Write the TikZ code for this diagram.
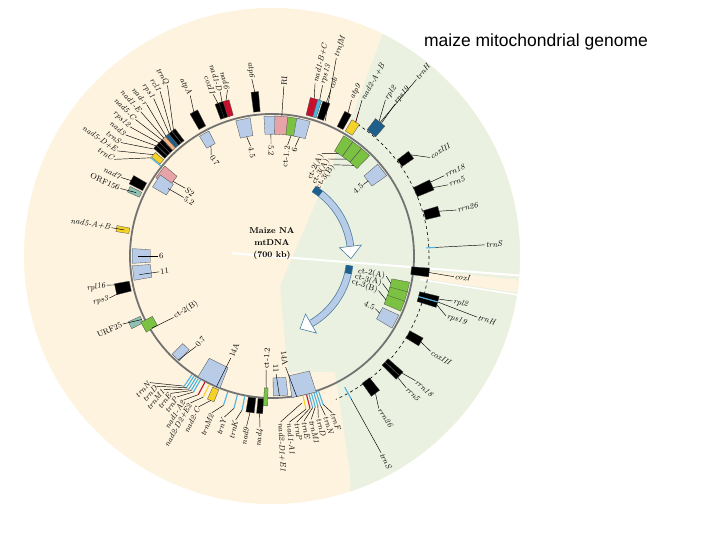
\documentclass[tikz,border=0pt]{standalone}
\usepackage{fontspec}
\newfontfamily\titlefont{Liberation Sans}
\begin{document}
\begin{tikzpicture}[x=1pt,y=1pt]
\definecolor{bgy}{HTML}{FDF3DE}
\definecolor{bgg}{HTML}{EAF1E0}
\definecolor{lb}{HTML}{B8CCE8}
\definecolor{pk}{HTML}{E8A3A8}
\definecolor{gr}{HTML}{7CC242}
\definecolor{rd}{HTML}{C8102E}
\definecolor{cy}{HTML}{4FB3E0}
\definecolor{yl}{HTML}{F5D22A}
\definecolor{tl}{HTML}{8FC0B0}
\definecolor{db}{HTML}{1F5F8B}
\definecolor{pc}{HTML}{F4B183}
\tikzset{lab/.style={line width=0.45pt,black},
 lt/.style={font=\fontsize{8}{9}\selectfont\itshape,inner sep=1pt},
 nt/.style={font=\fontsize{8}{9}\selectfont,inner sep=1pt},
 ringline/.style={line width=1.8pt,black!55}}
\newcommand\gb[5]{\path[fill=#5,draw=black!70,line width=0.3pt] (#1-#2:#3) -- (#1-#2:#4) -- (#1+#2:#4) -- (#1+#2:#3) -- cycle;}
\newcommand\tk[4]{\draw[#4,line width=1.1pt] (#1:#2) -- (#1:#3);}
\newcommand\ol[5]{\draw[lab] (#1:#2) -- (#3:#4);
 \pgfmathparse{cos(#3)>=0?1:0}%
 \ifdim\pgfmathresult pt>0.5pt \node[lt,rotate=#3,anchor=west] at (#3:#4) {#5};%
 \else \node[lt,rotate=#3+180,anchor=east] at (#3:#4) {#5};\fi}
\newcommand\il[5]{\draw[lab] (#1:#2) -- (#3:#4);
 \pgfmathparse{cos(#3)>=0?1:0}%
 \ifdim\pgfmathresult pt>0.5pt \node[nt,rotate=#3,anchor=east] at (#3:#4) {#5};%
 \else \node[nt,rotate=#3+180,anchor=west] at (#3:#4) {#5};\fi}
\useasboundingbox (0,0) rectangle (720,540);
\fill[white] (0,0) rectangle (720,540);
\node[font=\titlefont\fontsize{17.5}{19}\selectfont] (title) at (536,498) {maize mitochondrial genome};
\begin{scope}[shift={(272,284)}]
\fill[bgy] (0,0) circle (248pt);
\begin{scope}
\clip (0,0) circle (248pt);
\fill[bgg] (8,-30) -- (73,121) -- (140,300) -- (460,300) -- (460,-300) -- (80,-300) -- (78,-216) -- (63,-116) -- (16,-116) -- cycle;
\fill[bgy] (-5.5:150pt) -- (-5.5:260pt) -- (-8.5:260pt) -- (-8.5:150pt) -- cycle;
\draw[white,line width=2pt] (176:40pt) -- (-4.5:260pt);
\draw[white,line width=1.5pt] (-9:150pt) -- (-9:260pt);
\end{scope}
\node[font=\fontsize{8.5}{12}\selectfont\bfseries,align=center] (ctr) at (0,12) {Maize NA\\mtDNA\\(700 kb)};
% inner arrows
\draw[line width=7.5pt,db!80] (58:79pt) arc[start angle=58,end angle=7,radius=79pt];
\draw[line width=6pt,lb] (52:79pt) arc[start angle=52,end angle=7,radius=79pt];
\draw[line width=6pt,db] (58:79pt) arc[start angle=58,end angle=52,radius=79pt];
\path[fill=white,draw=db!80,line width=0.6pt] (7:68pt) -- (7:90pt) -- (-2:79pt) -- cycle;
\draw[line width=7.5pt,db!80] (-7:78pt) arc[start angle=-7,end angle=-60,radius=78pt];
\draw[line width=6pt,lb] (-13:78pt) arc[start angle=-13,end angle=-60,radius=78pt];
\draw[line width=6pt,db] (-7:78pt) arc[start angle=-7,end angle=-13,radius=78pt];
\path[fill=white,draw=db!80,line width=0.6pt] (-60:67pt) -- (-60:89pt) -- (-69:78pt) -- cycle;
\draw[ringline] (0,0) circle (142pt);
\draw[dashed,line width=0.6pt] (57:157pt) arc[start angle=57,end angle=-66,radius=157pt];
% ---- top-left cluster
\foreach \a/\c in {128/black,129.5/black,131/db,132.5/pc,134/black,135.5/black,137/black}{\gb{\a}{0.7}{145}{160}{\c}}
\gb{139.5}{1.1}{145}{156}{yl}
\tk{141}{143}{156}{cy}
\ol{128}{160}{121.5}{200}{trnQ}
\ol{129}{160}{124.2}{199}{rcl1}
\ol{130}{160}{126.9}{197}{rps1}
\ol{131.5}{160}{129.6}{196}{nad-r}
\ol{132.5}{160}{132.3}{195}{nad1-E}
\ol{133.5}{160}{135}{193}{nad5-C}
\ol{135}{160}{137.7}{192}{rps12}
\ol{136.5}{160}{140.4}{190}{nad3}
\ol{138}{160}{143.1}{189}{trnS}
\ol{139.5}{156}{145.8}{187}{nad5-D+E}
\ol{141}{156}{148.5}{185}{trnC}
\gb{118.5}{1.5}{146}{164}{black}
\ol{118.5}{164}{117}{180}{atpA}
\gb{119}{2.2}{126}{140}{lb}
\il{119}{126}{121}{118}{0.7}
\gb{109.5}{1.1}{146}{162}{black}
\gb{108}{1.1}{146}{162}{black}
\gb{106.5}{1.1}{146}{162}{rd}
\ol{109.5}{162}{110}{172}{coxII}
\ol{108}{162}{107.5}{172}{nad1-D}
\ol{106.5}{162}{105}{172}{nad6}
\gb{96}{1.3}{145}{165}{black}
\ol{96}{165}{96.5}{178}{atp6}
\gb{102}{3}{122}{140}{lb}
\il{102}{122}{101}{112}{4.5}
\gb{90.5}{2.8}{122}{140}{lb}
\gb{86}{2.8}{122}{140}{pk}
\il{90.5}{122}{90.5}{112}{5.2}
\draw[lab] (86:140pt) -- (86:170pt);
\node[nt,rotate=86,anchor=west] (ri) at (86:170) {RI};
\gb{81}{2.5}{122}{140}{gr}
\gb{77}{2.8}{122}{140}{lb}
\il{81}{122}{82}{112}{ct-1.2}
\il{77}{122}{78}{112}{6}
\gb{75}{1.4}{145}{163}{rd}
\gb{73}{0.7}{145}{163}{cy}
\gb{70.5}{1.3}{145}{163}{black}
\ol{75}{163}{76}{178}{nad1-B+C}
\ol{73}{163}{73.5}{178}{rps13}
\ol{70.5}{163}{70.5}{176}{cob}
\ol{68.5}{145}{72}{208}{trnfM}
\gb{62}{1.3}{145}{162}{black}
\ol{62}{162}{63}{175}{atp9}
\gb{58}{1.6}{145}{158}{yl}
\draw[rd,line width=0.6pt] (58:158pt) -- (59:168pt);
\ol{58}{158}{60}{180}{nad2-A+B}
\gb{51}{2}{158}{172}{db}
\ol{51.5}{172}{54}{193}{rpl2}
\ol{50.5}{172}{51}{195}{rps19}
\ol{51}{172}{50.7}{228}{trnH}
\gb{57}{2.2}{122}{140}{gr}
\gb{52.5}{2.2}{122}{140}{gr}
\gb{48}{2.2}{122}{140}{gr}
\il{57}{122}{64}{114}{ct-2(A)}
\il{52.5}{122}{60}{112}{ct-3(A)}
\il{48}{122}{56}{110}{ct-3(B)}
\gb{38}{3}{122}{140}{lb}
\il{38}{122}{38}{116}{4.5}
\gb{36}{1.5}{158}{172}{black}
\ol{36}{172}{32}{186}{coxIII}
\gb{24}{1.8}{157}{175}{black}
\ol{25}{175}{25}{190}{rrn18}
\ol{23}{175}{22}{190}{rrn5}
\gb{15}{1.7}{158}{173}{black}
\ol{15}{173}{14}{190}{rrn26}
\tk{3}{154}{164}{cy}
\ol{3}{164}{3}{213}{trnS}
\gb{-6}{1.6}{140}{158}{black}
\ol{-6}{158}{-6.5}{183}{coxI}
\gb{-14.5}{0.9}{152}{172}{black}
\gb{-16.5}{0.9}{152}{172}{black}
\tk{-15.5}{152}{172}{cy}
\ol{-14.5}{172}{-14}{186}{rpl2}
\ol{-16.5}{172}{-19}{184}{rps19}
\ol{-15.5}{172}{-16.6}{214}{trnH}
\gb{-30}{1.5}{157}{172}{black}
\ol{-30}{172}{-31}{185}{coxIII}
\gb{-42.3}{0.8}{155}{175}{black}
\gb{-44}{0.8}{155}{175}{black}
\ol{-42}{175}{-41}{190}{rrn18}
\ol{-44}{175}{-44.5}{188}{rrn5}
\gb{-53}{1.7}{156}{172}{black}
\ol{-53}{172}{-55}{186}{rrn26}
\tk{-61}{150}{163}{cy}
\ol{-61}{163}{-61}{225}{trnS}
\gb{-13}{2.2}{122}{140}{gr}
\gb{-17}{2.2}{122}{140}{gr}
\gb{-21}{2.2}{122}{140}{gr}
\il{-13}{122}{-10}{116}{ct-2(A)}
\il{-17}{122}{-14}{114}{ct-3(A)}
\il{-21}{122}{-18}{112}{ct-3(B)}
\gb{-28}{3}{122}{140}{lb}
\il{-28}{122}{-27}{116}{4.5}
\gb{-77}{5}{121}{143}{lb}
\il{-80}{143}{-83}{112}{14A}
\gb{-86.5}{3}{122}{140}{lb}
\il{-87}{140}{-88}{118}{11}
\gb{-92.5}{0.8}{132}{150}{gr}
\il{-92.5}{132}{-93}{114}{ct-1.2}
\gb{-94.5}{1.1}{143}{158}{black}
\gb{-98}{1.5}{143}{158}{black}
\ol{-94.5}{158}{-94}{172}{nad4}
\ol{-98}{158}{-98.5}{172}{nad9}
\foreach \a in {-71,-72,-73,-74,-75}{\tk{\a}{143}{157}{cy}}
\tk{-76}{143}{157}{rd}
\tk{-77.5}{143}{157}{yl}
\ol{-71}{157}{-69}{168}{trnF}
\ol{-72}{157}{-71.5}{168}{trnN}
\ol{-73}{157}{-74}{168}{trnD}
\ol{-74}{157}{-76.5}{168}{trnM1}
\ol{-75}{157}{-79}{168}{trnE}
\ol{-76}{157}{-81.5}{168}{trnP}
\ol{-77.5}{157}{-84}{167}{nad1-A1}
\ol{-78.5}{150}{-87}{166}{nad2-D1+E1}
\gb{-116.5}{5}{120}{142}{lb}
\il{-113}{142}{-112}{110}{14A}
\gb{-133.5}{2}{125}{140}{lb}
\il{-132}{140}{-130}{118}{0.7}
\foreach \a in {-124,-123,-122,-121,-120}{\tk{\a}{143}{157}{cy}}
\tk{-118}{143}{157}{rd}
\tk{-116}{143}{157}{yl}
\gb{-113}{1.3}{144}{157}{yl}
\tk{-108}{143}{157}{cy}
\tk{-104}{143}{157}{cy}
\tk{-101}{143}{157}{cy}
\ol{-124}{157}{-134}{176}{trnN}
\ol{-123}{157}{-131.5}{174}{trnD}
\ol{-122}{157}{-129}{172}{trnM1}
\ol{-121}{157}{-126.5}{171}{trnE}
\ol{-120}{157}{-124}{170}{trnP}
\ol{-118}{157}{-121.5}{169}{nad1-A2}
\ol{-116}{157}{-119}{168}{nad2-D2+E2}
\ol{-113}{157}{-116}{168}{nad2-C}
\ol{-108}{157}{-111}{168}{trnM2}
\ol{-104}{157}{-106.5}{168}{trnY}
\ol{-101}{157}{-102.5}{168}{trnK}
\gb{-154}{1.4}{145}{158}{tl}
\ol{-154}{145}{-155.5}{164}{\upshape URF25}
\gb{-151}{2.2}{134}{147}{gr}
\il{-149}{140}{-148}{116}{ct-2(B)}
\gb{-168}{2}{145}{160}{black}
\ol{-167}{150}{-165.5}{168}{rps3}
\ol{-169}{150}{-170}{168}{rpl16}
\gb{-173}{3}{122}{140}{lb}
\il{-172}{134}{-172}{114}{11}
\gb{180}{3}{122}{140}{lb}
\il{180}{134}{180}{114}{6}
\gb{170}{1.1}{145}{158}{yl}
\ol{170}{150}{170}{163}{nad5-A+B}
\gb{155}{1.1}{145}{158}{tl}
\gb{151.5}{1.7}{145}{160}{black}
\ol{155}{150}{156}{166}{\upshape ORF156}
\ol{151.5}{155}{152.5}{170}{nad7}
\gb{143}{3}{124}{140}{pk}
\gb{147}{3}{122}{138}{lb}
\il{143}{124}{142}{110}{S2}
\il{147}{124}{146.5}{106}{5.2}
\end{scope}
\end{tikzpicture}
\end{document}
